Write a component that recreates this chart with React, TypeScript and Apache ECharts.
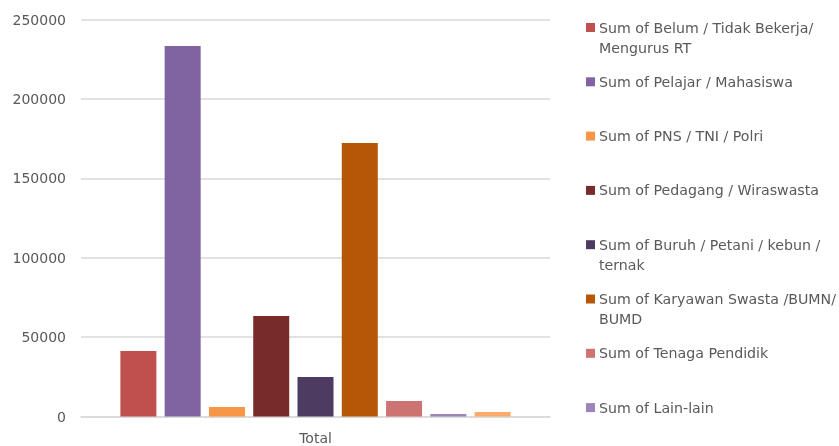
import React, { useEffect, useRef } from "react";
import * as echarts from "echarts";

const categories = ["Total"];
const seriesNames = [
  "Sum of Belum / Tidak Bekerja/ Mengurus RT",
  "Sum of Pelajar / Mahasiswa",
  "Sum of PNS / TNI / Polri",
  "Sum of Pedagang / Wiraswasta",
  "Sum of Buruh / Petani / kebun / ternak",
  "Sum of Karyawan Swasta /BUMN/ BUMD",
  "Sum of Tenaga Pendidik",
  "Sum of Lain-lain",
  "Sum of (9)",
];
const legendLabels = [
  "Sum of Belum / Tidak Bekerja/\nMengurus RT",
  "Sum of Pelajar / Mahasiswa",
  "Sum of PNS / TNI / Polri",
  "Sum of Pedagang / Wiraswasta",
  "Sum of Buruh / Petani / kebun /\nternak",
  "Sum of Karyawan Swasta /BUMN/\nBUMD",
  "Sum of Tenaga Pendidik",
  "Sum of Lain-lain",
];
const seriesValues = [41200, 233300, 6000, 63300, 24900, 172200, 9800, 1600, 2800];
const colors = [
  "#C0504D",
  "#8064A2",
  "#F79646",
  "#772C2A",
  "#4D3B62",
  "#B65708",
  "#CD7371",
  "#9C85B9",
  "#F9AB6B",
];
const yTicks = [0, 50000, 100000, 150000, 200000, 250000];

export default function App() {
  const ref = useRef<HTMLDivElement>(null);
  useEffect(() => {
    if (!ref.current) return;
    const chart = echarts.init(ref.current, null, { renderer: "svg" });
    const font = "DejaVu Sans, Verdana, sans-serif";
    const legendGraphics: any[] = [];
    legendLabels.forEach((label, i) => {
      const cy = 27.5 + i * 54.3;
      legendGraphics.push({
        type: "rect",
        shape: { x: 586, y: cy - 4.5, width: 9, height: 9 },
        style: { fill: colors[i] },
      });
      legendGraphics.push({
        type: "text",
        x: 599,
        y: cy - 10,
        style: {
          text: label,
          fill: "#595959",
          font: `14.2px ${font}`,
          lineHeight: 20,
          verticalAlign: "top",
        },
      });
    });
    chart.setOption({
      animation: false,
      textStyle: { fontFamily: font },
      grid: { left: 81, right: 289, top: 19.5, bottom: 29.5, containLabel: false },
      xAxis: {
        type: "category",
        data: categories,
        axisLine: { show: true, lineStyle: { color: "#D9D9D9", width: 1.5 } },
        axisTick: { show: false },
        axisLabel: { color: "#595959", fontSize: 14, margin: 14, fontFamily: font },
      },
      yAxis: {
        type: "value",
        min: yTicks[0],
        max: yTicks[yTicks.length - 1],
        interval: 50000,
        axisLine: { show: false },
        axisTick: { show: false },
        axisLabel: {
          color: "#595959",
          fontSize: 14,
          margin: 15,
          fontFamily: font,
          formatter: (v: number) => String(v),
        },
        splitLine: { lineStyle: { color: "#D9D9D9", width: 1.5 } },
      },
      series: seriesNames.map((name, i) => ({
        type: "bar",
        name,
        data: [seriesValues[i]],
        barWidth: 36,
        barGap: "23%",
        itemStyle: { color: colors[i] },
      })),
      graphic: legendGraphics,
    });
    return () => chart.dispose();
  }, []);
  return (
    <div
      ref={ref}
      style={{ position: "fixed", left: 0, top: 0, width: 839, height: 446 }}
    />
  );
}
